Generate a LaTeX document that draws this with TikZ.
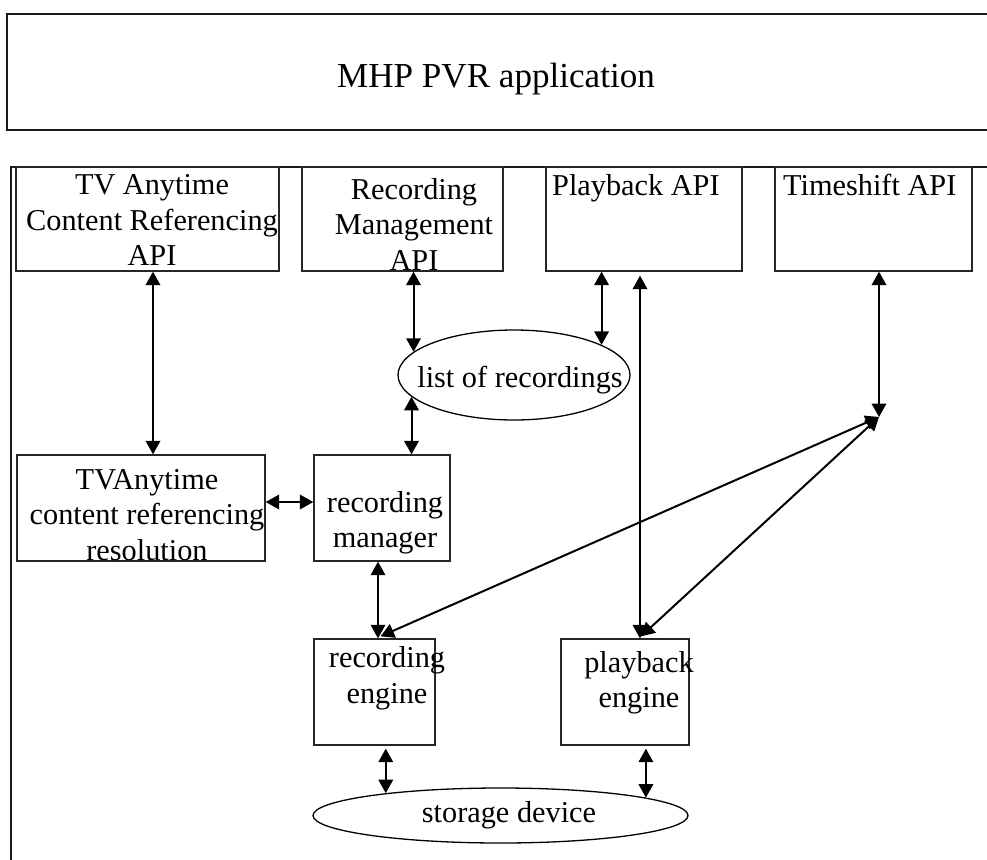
\documentclass[tikz,border=0pt]{standalone}
\usepackage{fontspec}
\setmainfont{Liberation Serif}
\usetikzlibrary{arrows.meta, shapes.geometric}

\begin{document}
\begin{tikzpicture}[x=1pt, y=-1pt,
    blk/.style={rectangle, draw=black!85, line width=1.3pt, inner sep=0pt},
    oval/.style={ellipse, draw, line width=1.3pt, inner sep=0pt},
    txt/.style={align=center, inner sep=0pt, font=\fontsize{30.3}{35.5}\selectfont},
    frame/.style={draw=black!90, line width=2pt},
    arr/.style={<->, >={Triangle[length=13.5pt, width=14.5pt]}, line width=2pt}]
  \useasboundingbox (0,0) rectangle (987,859);

  % application box and outer frame
  \draw[frame] (992,14) -- (7,14) -- (7,130) -- (992,130);
  \node[txt, font=\fontsize{35.1}{40}\selectfont] (app) at (496,79) {MHP PVR application};
  \draw[frame] (992,167) -- (11,167) -- (11,862);

  % API boxes
  \node[blk, minimum width=263pt, minimum height=104pt] (tvapi) at (147.5,219) {};
  \node[blk, minimum width=201pt, minimum height=104pt] (rmapi) at (402.5,219) {};
  \node[blk, minimum width=196pt, minimum height=104pt] (pbapi) at (644,219) {};
  \node[blk, minimum width=197pt, minimum height=104pt] (tsapi) at (873.5,219) {};
  \node[txt] (tvapi-t) at (152,220) {TV Anytime\\Content Referencing\\API};
  \node[txt] (rmapi-t) at (414,224) {Recording\\Management\\API};
  \node[txt, anchor=base west] (pbapi-t) at (552,195) {Playback API};
  \node[txt, anchor=base west] (tsapi-t) at (783,195) {Timeshift API};

  % list of recordings
  \node[oval, minimum width=232pt, minimum height=90pt] (list) at (514,375) {};
  \node[txt] (list-t) at (520,380) {list of recordings};

  % middle row
  \node[blk, minimum width=248pt, minimum height=106pt] (tvres) at (141,508) {};
  \node[blk, minimum width=136pt, minimum height=106pt] (recmgr) at (382,508) {};
  \node[txt] (tvres-t) at (147,515) {TVAnytime\\content referencing\\resolution};
  \node[txt] (recmgr-t) at (385,522.5) {recording\\manager};

  % engines
  \node[blk, minimum width=121pt, minimum height=106pt] (receng) at (374.5,692) {};
  \node[blk, minimum width=128pt, minimum height=106pt] (pbeng) at (625,692) {};
  \node[txt] (receng-t) at (387,678) {recording\\engine};
  \node[txt] (pbeng-t) at (639,682.5) {playback\\engine};

  % storage
  \node[oval, minimum width=375pt, minimum height=55pt] (store) at (500.5,815.5) {};
  \node[txt] (store-t) at (509,815) {storage device};

  \coordinate (tsj) at (879,417);

  % connectors
  \draw[arr] ([xshift=5.5pt]tvapi.south) -- ([xshift=5.5pt]tvapi.south |- tvres.north);
  \draw[arr] (rmapi.south -| list.167.7) -- (list.167.7);
  \draw[arr] (list.192.3) -- (list.192.3 |- recmgr.north);
  \draw[arr] (pbapi.south -| list.19.3) -- (list.19.3);
  \draw[arr, shorten <=4pt] ([xshift=-4pt]pbapi.south) -- ([xshift=-4pt]pbapi.south |- pbeng.north);
  \draw[arr] ([xshift=5.5pt]tsapi.south) -- (tsj);
  \draw[arr] (tsj) -- ([xshift=6pt, yshift=2pt]receng.north);
  \draw[arr] (tsj) -- ([xshift=16pt, yshift=2pt]pbeng.north);
  \draw[arr] ([yshift=6pt]tvres.east) -- ([yshift=6pt]tvres.east -| recmgr.west);
  \draw[arr] ([xshift=-4pt]recmgr.south) -- ([xshift=-4pt]recmgr.south |- receng.north);
  \draw[arr, shorten <=3pt] (receng.south -| store.169.5) -- (store.169.5);
  \draw[arr, shorten <=3pt] (pbeng.south -| store.7.7) -- (store.7.7);
\end{tikzpicture}
\end{document}
